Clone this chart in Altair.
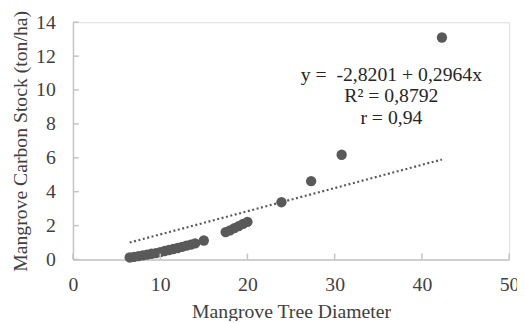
import altair as alt
import pandas as pd

# Data
diameter = [6.5, 7.0, 7.5, 8.0, 8.5, 9.0, 9.5, 10.0, 10.5, 11.0, 11.5, 12.0, 12.5, 13.0, 13.5, 14.0, 15.0,
            17.5, 18.0, 18.5, 19.0, 19.5, 20.0,
            23.9, 27.3, 30.8, 42.3]
carbon = [0.12, 0.16, 0.20, 0.24, 0.29, 0.34, 0.38, 0.44, 0.50, 0.56, 0.62, 0.68, 0.75, 0.82, 0.88, 0.95, 1.12,
          1.62, 1.72, 1.85, 1.97, 2.10, 2.22,
          3.38, 4.62, 6.18, 13.1]

trend_x = [6.5, 42.3]
trend_y = [1.0, 5.9]

ann_text = ["y = \u00a0-2,8201 + 0,2964x", "R² = 0,8792", "r = 0,94"]
ann_x = [36.5, 36.5, 36.5]
ann_y = [10.9, 9.62, 8.35]

x_ticks = [0, 10, 20, 30, 40, 50]
y_ticks = [0, 2, 4, 6, 8, 10, 12, 14]

W, H = 443, 241
FONT = "Liberation Serif"
FS = 20
GRAY = "#595959"
AXC = "#c4c4c4"
TXT = "#404040"

pts = pd.DataFrame({"d": diameter, "c": carbon})
trend = pd.DataFrame({"d": trend_x, "c": trend_y})
ann = pd.DataFrame({"t": ann_text, "d": ann_x, "c": ann_y})
xt = pd.DataFrame({"d": x_ticks})
yt = pd.DataFrame({"c": y_ticks})

xscale = alt.Scale(domain=[0, 50], nice=False, zero=False)
yscale = alt.Scale(domain=[0, 14], nice=False, zero=False)

xaxis = alt.Axis(values=x_ticks, grid=False, ticks=False,
                 domainColor=AXC, domainWidth=1.5, labelFont=FONT, labelFontSize=FS, labelColor=TXT,
                 labelPadding=15, titleFont=FONT, titleFontSize=FS, titleFontWeight="normal",
                 titleColor=TXT, titlePadding=8, labelFlush=False, labelOverlap=False)
yaxis = alt.Axis(values=y_ticks, grid=False, ticks=False,
                 domainColor=AXC, domainWidth=1.5, labelFont=FONT, labelFontSize=FS, labelColor=TXT,
                 labelPadding=18, titleFont=FONT, titleFontSize=FS, titleFontWeight="normal",
                 titleColor=TXT, titlePadding=5, labelFlush=False, labelOverlap=False)

XT = "Mangrove Tree Diameter"
YT = "Mangrove Carbon Stock (ton/ha)"


def X():
    return alt.X("d:Q", scale=xscale, axis=xaxis, title=XT)


def Y():
    return alt.Y("c:Q", scale=yscale, axis=yaxis, title=YT)


points = alt.Chart(pts).mark_circle(size=110, color=GRAY, opacity=1).encode(x=X(), y=Y())

line = alt.Chart(trend).mark_line(color=GRAY, strokeWidth=2.2, strokeDash=[2, 2.6]).encode(x=X(), y=Y())

text = alt.Chart(ann).mark_text(font=FONT, fontSize=FS, color="#262626", align="center",
                                baseline="middle").encode(x=X(), y=Y(), text="t:N")

xticks = alt.Chart(xt).mark_rule(color=AXC, strokeWidth=1.5).encode(
    x=X(),
    y=alt.value(H),
    y2=alt.value(H - 6),
)
yticks = alt.Chart(yt).mark_rule(color=AXC, strokeWidth=1.5).encode(
    y=Y(),
    x=alt.value(0),
    x2=alt.value(6),
)

chart = alt.layer(points, xticks, yticks, line, text).properties(
    width=W, height=H,
    autosize=alt.AutoSizeParams(type="none"),
    padding={"left": 66, "top": 12, "right": 8, "bottom": 60},
).configure_view(stroke=None).configure(background="white")

chart.save("out.html", embed_options={"renderer": "svg", "actions": False})
